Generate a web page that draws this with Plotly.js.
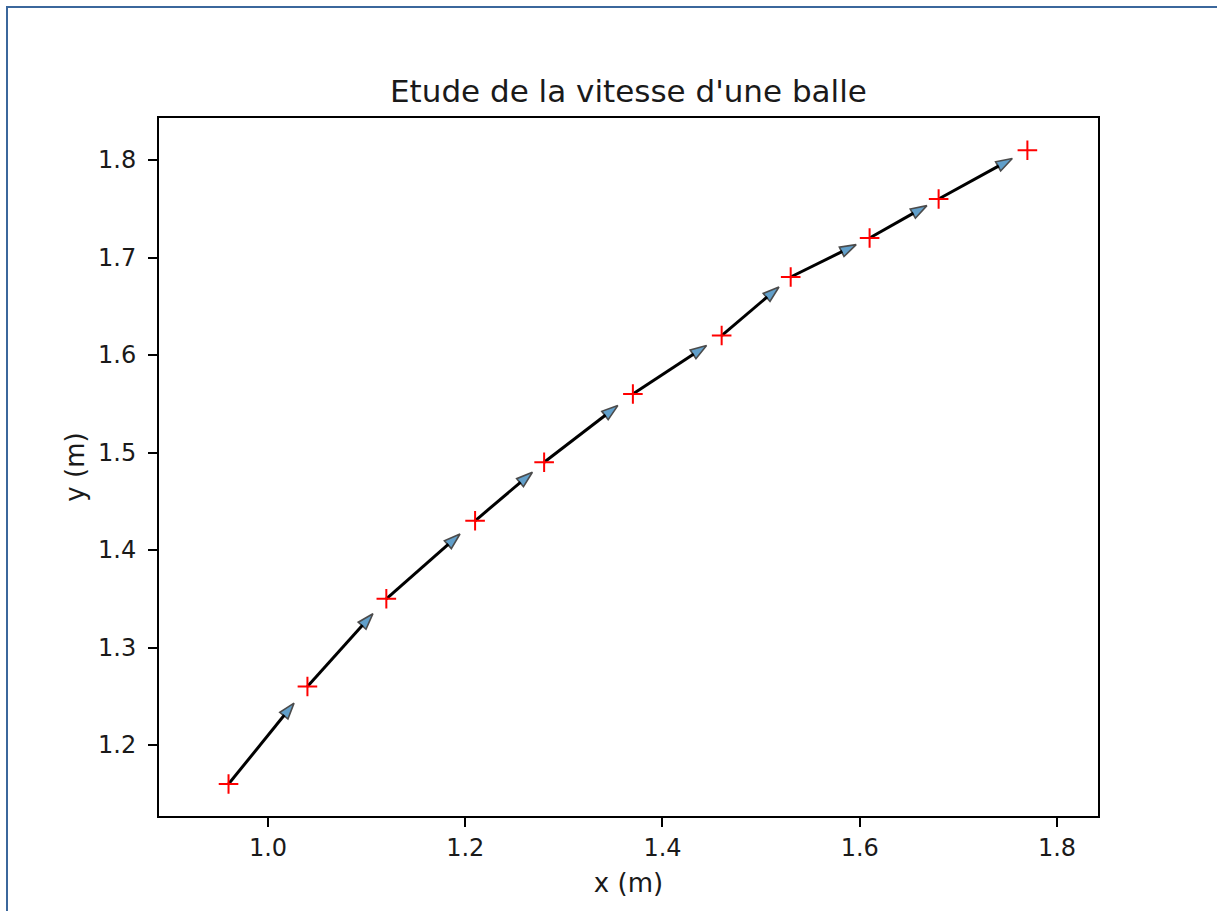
<!DOCTYPE html>
<html>
<head>
<meta charset="utf-8">
<script src="https://cdn.plot.ly/plotly-3.0.1.min.js"></script>
<style>
  html, body { margin: 0; padding: 0; background: #ffffff; }
  #chart { position: absolute; left: 0; top: 0; width: 1217px; height: 911px; }
  #frame { position: absolute; left: 6px; top: 6px; width: 1220px; height: 920px;
           border-top: 2px solid #3b679c; border-left: 2px solid #3b679c; pointer-events: none; }
</style>
</head>
<body>
<div id="chart"></div>
<div id="frame"></div>
<script>
// Positions of the ball (m)
const xPos = [0.96, 1.04, 1.12, 1.21, 1.28, 1.37, 1.46, 1.53, 1.61, 1.68, 1.77];
const yPos = [1.16, 1.26, 1.35, 1.43, 1.49, 1.56, 1.62, 1.68, 1.72, 1.76, 1.81];
const xTicks = [1.0, 1.2, 1.4, 1.6, 1.8];
const yTicks = [1.2, 1.3, 1.4, 1.5, 1.6, 1.7, 1.8];
const titleText = "Etude de la vitesse d'une balle";
const xLabel = "x (m)";
const yLabel = "y (m)";

// velocity vectors drawn as arrows starting at each position
const arrowScale = 0.83;

const traces = [];
for (let i = 0; i < xPos.length - 1; i++) {
  const vx = xPos[i + 1] - xPos[i];
  const vy = yPos[i + 1] - yPos[i];
  traces.push({
    type: 'scatter',
    mode: 'lines+markers',
    x: [xPos[i], xPos[i] + arrowScale * vx],
    y: [yPos[i], yPos[i] + arrowScale * vy],
    line: { color: 'black', width: 3 },
    marker: {
      symbol: 'arrow',
      size: [0, 17],
      angleref: 'previous',
      color: '#1f77b4',
      line: { color: 'black', width: 1.6 }
    },
    hoverinfo: 'skip',
    showlegend: false
  });
}
traces.push({
  type: 'scatter',
  mode: 'markers',
  x: xPos,
  y: yPos,
  marker: { symbol: 'cross-thin', size: 14, color: 'red', line: { color: 'red', width: 2 } },
  showlegend: false
});

const tickFont = { family: 'DejaVu Sans, sans-serif', size: 24, color: '#1a1a1a' };
const labelFont = { family: 'DejaVu Sans, sans-serif', size: 26, color: '#1a1a1a' };
const layout = {
  width: 1217, height: 911,
  paper_bgcolor: '#ffffff', plot_bgcolor: '#ffffff',
  margin: { l: 159, r: 119, t: 118, b: 95 },
  font: tickFont,
  showlegend: false,
  title: { text: titleText, font: { family: 'DejaVu Sans, sans-serif', size: 31, color: '#1a1a1a' },
           x: 0.5164, xanchor: 'center', y: 1 - 91 / 911, yanchor: 'middle', yref: 'container' },
  xaxis: {
    range: [0.8895, 1.8416], tickvals: xTicks, ticktext: xTicks.map(v => v.toFixed(1)),
    showgrid: false, zeroline: false, showline: true, mirror: true, linecolor: 'black', linewidth: 2,
    ticks: 'outside', ticklen: 9, tickwidth: 2, tickcolor: 'black', tickfont: tickFont,
    title: { text: xLabel, font: labelFont, standoff: 13 }
  },
  yaxis: {
    range: [1.1272, 1.8431], tickvals: yTicks, ticktext: yTicks.map(v => v.toFixed(1)),
    showgrid: false, zeroline: false, showline: true, mirror: true, linecolor: 'black', linewidth: 2,
    ticks: 'outside', ticklen: 9, tickwidth: 2, tickcolor: 'black', tickfont: tickFont,
    ticklabelstandoff: 7,
    title: { text: yLabel, font: labelFont, standoff: 6 }
  }
};
Plotly.newPlot('chart', traces, layout, { displayModeBar: false, staticPlot: true });
</script>
</body>
</html>
